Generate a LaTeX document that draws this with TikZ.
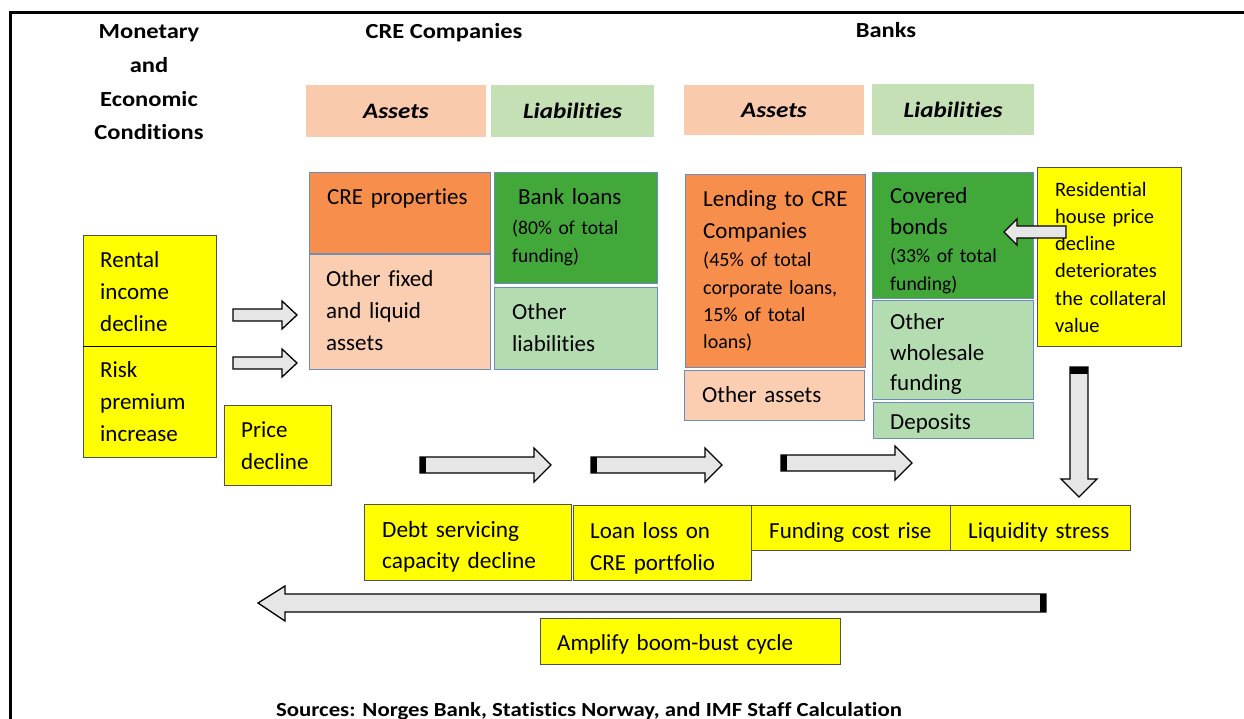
\documentclass[tikz,border=0pt]{standalone}
\usepackage{fontspec}
\setmainfont{Carlito}[Ligatures={NoCommon,NoContextual}, BoldFeatures={FakeStretch=1.14}, BoldItalicFeatures={FakeStretch=1.14}]
\definecolor{yel}{RGB}{255,255,0}
\definecolor{ygray}{RGB}{80,80,80}
\definecolor{orng}{RGB}{248,142,76}
\definecolor{peach}{RGB}{251,206,177}
\definecolor{peachH}{RGB}{250,202,172}
\definecolor{dgreen}{RGB}{67,168,58}
\definecolor{lgreen}{RGB}{179,221,176}
\definecolor{lgreenH}{RGB}{197,224,180}
\definecolor{boxedge}{RGB}{110,140,185}
\definecolor{arrowgray}{RGB}{230,230,230}
\begin{document}
\begin{tikzpicture}[x=1pt,y=-1pt,
  box/.style={draw=boxedge, line width=0.8pt, anchor=north west, inner sep=0, outer sep=0},
  hbox/.style={draw=none, anchor=north west, inner sep=0, outer sep=0, font=\bfseries\itshape\fontsize{22}{26}\selectfont},
  ybox/.style={draw=ygray, fill=yel, line width=0.9pt, anchor=north west, inner sep=0, outer sep=0},
  t/.style={anchor=north west, inner sep=0, text width=260pt, align=left, font=\fontsize{23}{32}\selectfont},
  ts/.style={t, font=\fontsize{20}{27.5}\selectfont},
  hdr/.style={inner sep=0, font=\bfseries\fontsize{21.5}{33.7}\selectfont},
  blk/.style={draw=black, fill=arrowgray, line width=1.3pt, line join=miter},
]
\useasboundingbox (0,0) rectangle (1244,719);
% frame
\draw[line width=3pt] (10,722) -- (10,13) -- (1250,13);

% headers
\node[hdr, anchor=north, text width=200pt, align=center] (hmon) at (149,14.85) {\strut Monetary\\and\\Economic\\Conditions};
\node[hdr] (hcre) at (444,32.5) {CRE Companies};
\node[hdr] (hbank) at (886,30.5) {Banks};

% header boxes
\node[hbox, fill=peachH, minimum width=180pt, minimum height=52pt] (ha1) at (306,85) {Assets};
\node[hbox, fill=lgreenH, minimum width=163pt, minimum height=52pt] (hl1) at (491,85) {Liabilities};
\node[hbox, fill=peachH, minimum width=180pt, minimum height=50pt] (ha2) at (684,85) {Assets};
\node[hbox, fill=lgreenH, minimum width=162pt, minimum height=51pt] (hl2) at (872,84) {Liabilities};

% CRE balance sheet
\node[box, fill=orng, minimum width=181pt, minimum height=81pt] (creprop) at (309,172) {};
\node[box, fill=peach, minimum width=181pt, minimum height=115pt] (otherfix) at (309,254) {};
\node[box, fill=dgreen, minimum width=163pt, minimum height=111pt] (bankloans) at (494,172) {};
\node[box, fill=lgreen, minimum width=163pt, minimum height=82pt] (otherliab) at (494,287) {};
% Banks balance sheet
\node[box, fill=orng, minimum width=180pt, minimum height=193pt] (lending) at (685,174) {};
\node[box, fill=peach, minimum width=180pt, minimum height=50pt] (otherassets) at (684,370) {};
\node[box, fill=dgreen, minimum width=161pt, minimum height=126pt] (covered) at (872,172) {};
\node[box, fill=lgreen, minimum width=161pt, minimum height=99pt] (wholesale) at (872,300) {};
\node[box, fill=lgreen, minimum width=160pt, minimum height=36pt] (deposits) at (873,402) {};

% yellow boxes
\node[ybox, minimum width=133pt, minimum height=111pt] (rental) at (83,235) {};
\node[ybox, minimum width=133pt, minimum height=111pt] (risk) at (83,346) {};
\draw[black, line width=0.9pt] (rental.south west) -- (rental.south east);
\node[ybox, minimum width=107pt, minimum height=80pt] (price) at (224,405) {};
\node[ybox, minimum width=144pt, minimum height=179pt] (resid) at (1037,167) {};
\node[ybox, minimum width=207pt, minimum height=76pt] (debt) at (364,504) {};
\node[ybox, minimum width=178pt, minimum height=75pt] (loanloss) at (573,505) {};
\node[ybox, minimum width=199pt, minimum height=45pt] (fundcost) at (751,505) {};
\node[ybox, minimum width=180pt, minimum height=45pt] (liquid) at (950,505) {};
\node[ybox, minimum width=300pt, minimum height=46pt] (amplify) at (540,618) {};

% texts
\node[t] (trental) at (100,244.5) {\strut Rental\\income\\decline};
\node[t] (trisk) at (100,354.5) {\strut Risk\\premium\\increase};
\node[t] (tprice) at (241,414.5) {\strut Price\\decline};
\node[t] (tcreprop) at (327,182.2) {\strut CRE properties};
\node[t] (tfix) at (326,263.7) {\strut Other fixed\\and liquid\\assets};
\node[t] (tbank) at (518,182.2) {\strut Bank loans};
\node[ts, font=\fontsize{19.6}{28}\selectfont] (tbank2) at (512,214.4) {\strut (80\% of total\\funding)};
\node[t] (tliab) at (512,296.7) {\strut Other\\liabilities};
\node[t] (tlend) at (703,184.2) {\strut Lending to CRE\\Companies};
\node[ts, font=\fontsize{20}{27.3}\selectfont] (tlend2) at (703,247.4) {\strut (45\% of total\\corporate loans,\\15\% of total\\loans)};
\node[t] (toa) at (702,380.2) {\strut Other assets};
\node[t, font=\fontsize{23}{31}\selectfont] (tcov) at (890,181.5) {\strut Covered\\bonds};
\node[ts, font=\fontsize{19.7}{28}\selectfont] (tcov2) at (890,242.4) {\strut (33\% of total\\funding)};
\node[t, font=\fontsize{23}{30.5}\selectfont] (twhole) at (890,308) {\strut Other\\wholesale\\funding};
\node[t] (tdep) at (890,407.2) {\strut Deposits};
\node[ts, font=\fontsize{20.5}{27.2}\selectfont] (tres) at (1055,177) {\strut Residential\\house price\\decline\\deteriorates\\the collateral\\value};
\node[t, font=\fontsize{23.3}{31}\selectfont] (tdebt) at (382,515.5) {\strut Debt servicing\\capacity decline};
\node[t] (tloan) at (590,516) {\strut Loan loss on\\CRE portfolio};
\node[t] (tfund) at (769,516.2) {\strut Funding cost rise};
\node[t] (tliq) at (968,516.2) {\strut Liquidity stress};
\node[t] (tamp) at (557,628.2) {\strut Amplify boom-bust cycle};

\node[inner sep=0, font=\bfseries\fontsize{20}{24}\selectfont] (src) at (589,711) {Sources: Norges Bank, Statistics Norway, and IMF Staff Calculation};

% block arrows
\draw[blk] (233,309) -- (282,309) -- (282,301) -- (297,315) -- (282,329) -- (282,321) -- (233,321) -- cycle;
\draw[blk] (233,357) -- (282,357) -- (282,349) -- (297,363) -- (282,377) -- (282,369) -- (233,369) -- cycle;

\draw[blk] (420,457) -- (534,457) -- (534,448) -- (551,465) -- (534,482) -- (534,473) -- (420,473) -- cycle;
\fill[black] (420,457) rectangle (426,473);
\draw[blk] (591,457) -- (705,457) -- (705,448) -- (722,465) -- (705,482) -- (705,473) -- (591,473) -- cycle;
\fill[black] (591,457) rectangle (597,473);
\draw[blk] (781,455) -- (895,455) -- (895,446) -- (912,463) -- (895,480) -- (895,471) -- (781,471) -- cycle;
\fill[black] (781,455) rectangle (787,471);

\draw[blk] (1066,226) -- (1017,226) -- (1017,219) -- (1004,232) -- (1017,245) -- (1017,238) -- (1066,238) -- cycle;

\draw[blk] (1070,367) -- (1070,479) -- (1061,479) -- (1079,497) -- (1097,479) -- (1088,479) -- (1088,367) -- cycle;
\fill[black] (1070,367) rectangle (1088,374);

\draw[blk] (1046,594) -- (285,594) -- (285,586) -- (258,603) -- (285,621) -- (285,612) -- (1046,612) -- cycle;
\fill[black] (1040,594) rectangle (1046,612);
\end{tikzpicture}
\end{document}
